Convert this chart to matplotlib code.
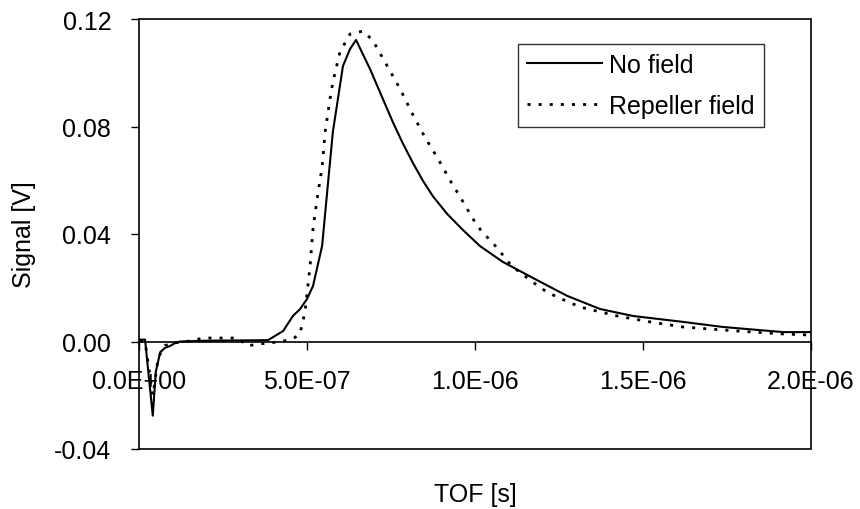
import matplotlib
matplotlib.use("Agg")
import matplotlib.pyplot as plt
from matplotlib.ticker import FuncFormatter
from matplotlib.patches import Rectangle

# Time of flight in microseconds (scaled to seconds when plotted)
t_nofield_us = [0.003, 0.018, 0.030, 0.041, 0.050, 0.063, 0.077, 0.092, 0.107, 0.122,
                0.200, 0.300, 0.384, 0.429, 0.458, 0.479, 0.500, 0.518, 0.545, 0.560,
                0.577, 0.607, 0.628, 0.646, 0.6875, 0.726, 0.756, 0.786, 0.815, 0.845,
                0.875, 0.917, 0.964, 1.015, 1.083, 1.173, 1.274, 1.372, 1.470, 1.619,
                1.738, 1.917, 2.000]
v_nofield = [0.0007, 0.0007, -0.014, -0.0276, -0.0113, -0.004, -0.0024, -0.0017, -0.0006, 0.0,
             0.0003, 0.0004, 0.0005, 0.0039, 0.0095, 0.012, 0.0158, 0.0207, 0.0356, 0.0556,
             0.078, 0.1025, 0.1088, 0.1122, 0.1014, 0.0902, 0.0815, 0.0735, 0.0665, 0.0598,
             0.054, 0.0475, 0.0415, 0.0355, 0.0296, 0.0236, 0.017, 0.0121, 0.0095, 0.0073,
             0.0054, 0.0035, 0.0035]

t_repeller_us = [0.003, 0.018, 0.033, 0.041, 0.045, 0.057, 0.077, 0.107, 0.158, 0.190,
                 0.292, 0.324, 0.354, 0.425, 0.458, 0.479, 0.494, 0.509, 0.518, 0.530,
                 0.545, 0.554, 0.568, 0.577, 0.598, 0.628, 0.667, 0.696, 0.732, 0.777,
                 0.8125, 0.851, 0.890, 0.932, 0.955, 0.994, 1.021, 1.051, 1.080, 1.110,
                 1.173, 1.214, 1.244, 1.313, 1.423, 1.521, 1.619, 1.768, 1.917, 2.000]
v_repeller = [0.0, 0.0, -0.013, -0.020, -0.017, -0.006, -0.0015, -0.0005, 0.0003, 0.0013,
              0.0013, -0.0016, -0.001, 0.0, 0.001, 0.0028, 0.011, 0.028, 0.042, 0.053,
              0.065, 0.078, 0.090, 0.0965, 0.1077, 0.1144, 0.1155, 0.112, 0.104, 0.094,
              0.085, 0.076, 0.068, 0.0586, 0.054, 0.0456, 0.0407, 0.037, 0.0326, 0.028,
              0.022, 0.0184, 0.0166, 0.0128, 0.0095, 0.0073, 0.0054, 0.004, 0.0028, 0.0024]

x_ticks = [0.0, 5.0e-7, 1.0e-6, 1.5e-6, 2.0e-6]
y_ticks = [-0.04, 0.00, 0.04, 0.08, 0.12]
series_labels = ["No field", "Repeller field"]

plt.rcParams['font.family'] = ['Liberation Sans', 'DejaVu Sans']

fig = plt.figure(figsize=(8.6, 5.1), dpi=100)
ax = fig.add_axes([139/860, 60/510, 672/860, 430/510])

ax.plot([t * 1e-6 for t in t_nofield_us], v_nofield, color='black', lw=1.5,
        label=series_labels[0])
ax.plot([t * 1e-6 for t in t_repeller_us], v_repeller, color='black', lw=2.0,
        linestyle=(0, (1.1, 2.9)), label=series_labels[1])

ax.set_xlim(0, 2.0e-6)
ax.set_ylim(-0.04, 0.12)
ax.set_xticks(x_ticks)
ax.set_yticks(y_ticks)
ax.xaxis.set_major_formatter(FuncFormatter(lambda v, p: f"{v:.1E}"))
ax.yaxis.set_major_formatter(FuncFormatter(lambda v, p: f"{v:.2f}"))

for s in ['top', 'right', 'left']:
    ax.spines[s].set_visible(False)
ax.spines['bottom'].set_position(('data', 0))
ax.spines['bottom'].set_linewidth(1.2)
ax.add_patch(Rectangle((0, 0), 1, 1, transform=ax.transAxes, fill=False,
                       edgecolor='black', lw=1.2, clip_on=False, zorder=5))

ax.tick_params(axis='x', direction='out', length=6, width=1, labelsize=18, pad=14)
ax.tick_params(axis='y', direction='out', length=6, width=1, labelsize=18, pad=14)

ax.set_xlabel("TOF [s]", fontsize=18)
ax.xaxis.set_label_coords(0.5, -0.077)
ax.set_ylabel("Signal [V]", fontsize=18)
ax.yaxis.set_label_coords(-0.153, 0.5)

leg = ax.legend(loc='upper left', bbox_to_anchor=(379/672, 1 - 25/430),
                fontsize=18, frameon=True, fancybox=False, handlelength=3.0,
                handletextpad=0.3, borderpad=0.35, labelspacing=0.69,
                borderaxespad=0)
leg.get_frame().set_edgecolor('black')
leg.get_frame().set_linewidth(1.0)

fig.savefig("out.png", dpi=100)
